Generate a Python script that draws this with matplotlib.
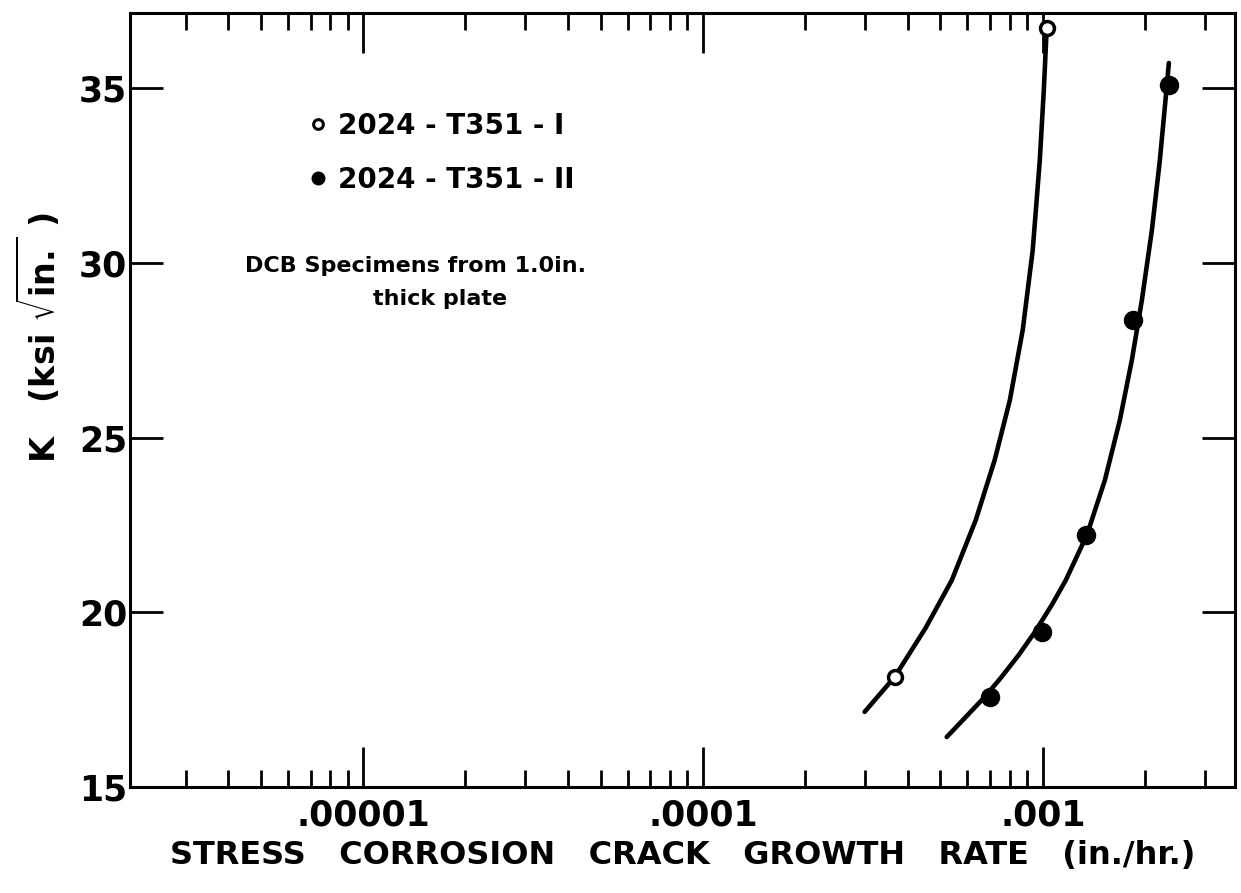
import numpy as np
import matplotlib
matplotlib.use("Agg")
import matplotlib.pyplot as plt
from matplotlib.lines import Line2D
from matplotlib.ticker import FixedLocator, NullFormatter, LogLocator


# measured points (crack growth rate in in./hr, K in ksi sqrt(in.))
rate_I = [3.665e-4, 1.027e-3]
k_I = [18.15, 36.72]

rate_II = [6.98e-4, 9.93e-4, 1.339e-3, 1.841e-3, 2.35e-3]
k_II = [17.58, 19.43, 22.21, 28.36, 35.09]

# hand-drawn curves
curve_rate_I = [2.99e-4, 3.665e-4, 4.52e-4, 5.40e-4, 6.35e-4, 7.22e-4, 8.00e-4,
                8.73e-4, 9.34e-4, 9.80e-4, 1.007e-3, 1.027e-3]
curve_k_I = [17.15, 18.15, 19.55, 20.92, 22.64, 24.36, 26.07, 28.08, 30.36, 32.94,
             34.94, 36.72]

curve_rate_II = [5.215e-4, 5.93e-4, 6.75e-4, 7.52e-4, 8.50e-4, 9.47e-4, 1.063e-3,
                 1.169e-3, 1.348e-3, 1.523e-3, 1.686e-3, 1.829e-3, 1.957e-3,
                 2.095e-3, 2.211e-3, 2.319e-3, 2.350e-3]
curve_k_II = [16.43, 17.00, 17.58, 18.12, 18.78, 19.43, 20.21, 20.92, 22.21, 23.78,
              25.50, 27.22, 28.93, 30.94, 32.94, 35.09, 35.72]

xtick_vals = [1e-5, 1e-4, 1e-3]
xtick_labels = [".00001", ".0001", ".001"]
ytick_vals = [15, 20, 25, 30, 35]


fig = plt.figure(figsize=(12.41, 8.93), dpi=100)
ax = fig.add_axes([0.1048, 0.1187, 0.8904, 0.8667])

ax.plot(curve_rate_I, curve_k_I, color="black", lw=3.3, solid_capstyle="round",
        solid_joinstyle="round")
ax.plot(curve_rate_II, curve_k_II, color="black", lw=3.3, solid_capstyle="round",
        solid_joinstyle="round")

ax.plot(rate_I, k_I, "o", ms=10, mfc="white", mec="black", mew=2.5)
ax.plot(rate_II, k_II, "o", ms=13, mfc="black", mec="black")

ax.set_xscale("log")
ax.set_xlim(2.06e-6, 3.68e-3)
ax.set_ylim(15, 37.15)

ax.xaxis.set_major_locator(FixedLocator(xtick_vals))
ax.set_xticklabels(xtick_labels)
ax.xaxis.set_minor_locator(LogLocator(base=10, subs=np.arange(2, 10)))
ax.xaxis.set_minor_formatter(NullFormatter())
ax.set_yticks(ytick_vals)
ax.yaxis.set_minor_locator(FixedLocator([]))

ax.tick_params(axis="x", which="major", direction="in", length=29, width=2, top=True,
               labelsize=25, pad=8)
ax.tick_params(axis="x", which="minor", direction="in", length=12, width=2, top=True)
ax.tick_params(axis="y", which="major", direction="in", length=24, width=2, right=True,
               labelsize=25, pad=2)

for s in ax.spines.values():
    s.set_linewidth(2.2)

for lab in ax.get_xticklabels() + ax.get_yticklabels():
    lab.set_fontweight("bold")

ax.set_xlabel("STRESS   CORROSION   CRACK   GROWTH   RATE   (in./hr.)",
              fontsize=23, fontweight="bold", labelpad=6)
ax.set_ylabel(r"K   (ksi $\mathbf{\sqrt{in.}}$ )", fontsize=24, fontweight="bold")
ax.yaxis.set_label_coords(-0.062, 0.58)

handles = [
    Line2D([], [], ls="none", marker="o", ms=7, mfc="white", mec="black", mew=2.2),
    Line2D([], [], ls="none", marker="o", ms=9, mfc="black", mec="black"),
]
ax.legend(handles, ["2024 - T351 - I", "2024 - T351 - II"], loc="upper left",
          bbox_to_anchor=(0.14, 0.905), frameon=False, handlelength=0.6, handletextpad=0.4,
          labelspacing=0.95, prop={"size": 20, "weight": "bold"})

ax.text(0.104, 0.673, "DCB Specimens from 1.0in.", transform=ax.transAxes,
        ha="left", va="center", fontsize=16, fontweight="bold")
ax.text(0.220, 0.631, "thick plate", transform=ax.transAxes,
        ha="left", va="center", fontsize=16, fontweight="bold")

fig.savefig("out.png", dpi=100)
